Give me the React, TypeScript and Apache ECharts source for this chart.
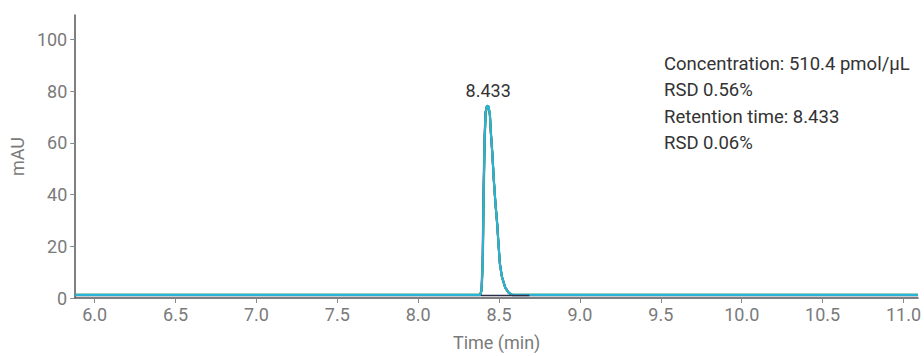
import React, { useEffect, useRef } from "react";
import * as echarts from "echarts";

const xTicks = [6.0, 6.5, 7.0, 7.5, 8.0, 8.5, 9.0, 9.5, 10.0, 10.5, 11.0];
const yTicks = [0, 20, 40, 60, 80, 100];

const traceNavy: number[][] = [
  [5.88, 1.1], [8.384, 1.1], [8.392, 3], [8.399, 14], [8.405, 42], [8.411, 62], [8.417, 72],
  [8.425, 74], [8.434, 73.6], [8.443, 71], [8.449, 64], [8.458, 56], [8.468, 45], [8.478, 36],
  [8.489, 28], [8.496, 21], [8.505, 13], [8.518, 8], [8.538, 4], [8.56, 2], [8.58, 1.1], [11.09, 1.1],
];
const traceMagenta: number[][] = [
  [5.88, 1.2], [8.383, 1.2], [8.391, 3.5], [8.398, 16], [8.404, 44], [8.410, 63], [8.416, 72],
  [8.424, 74.2], [8.433, 74], [8.442, 71.5], [8.448, 65], [8.457, 57], [8.467, 46], [8.477, 37],
  [8.488, 29], [8.495, 22], [8.504, 14], [8.517, 8.5], [8.537, 4.2], [8.559, 2.1], [8.58, 1.2], [11.09, 1.2],
];
const traceOrange: number[][] = [
  [5.88, 1.2], [8.385, 1.2], [8.393, 3], [8.400, 13], [8.406, 40], [8.412, 61], [8.418, 71],
  [8.426, 73.8], [8.435, 73.5], [8.444, 70.5], [8.450, 63], [8.459, 55], [8.469, 44], [8.479, 35],
  [8.490, 27], [8.497, 20], [8.506, 12.5], [8.519, 7.5], [8.539, 3.8], [8.561, 1.9], [8.58, 1.2], [11.09, 1.2],
];
const traceGreen: number[][] = [
  [5.88, 1.3], [8.384, 1.3], [8.392, 3.2], [8.399, 15], [8.405, 43], [8.411, 62.5], [8.417, 71.5],
  [8.425, 74.4], [8.434, 74.2], [8.443, 71.2], [8.449, 64.5], [8.458, 56.5], [8.468, 45.5], [8.478, 36.5],
  [8.489, 28.5], [8.496, 21.5], [8.505, 13.5], [8.518, 8.2], [8.538, 4], [8.56, 2], [8.58, 1.3], [11.09, 1.3],
];
const traceTeal: number[][] = [
  [5.88, 1.3], [8.385, 1.3], [8.393, 3.4], [8.400, 15], [8.406, 43], [8.412, 63], [8.418, 72],
  [8.426, 74.5], [8.435, 74.1], [8.444, 71], [8.450, 64], [8.459, 56], [8.469, 45], [8.479, 36],
  [8.490, 28], [8.497, 21], [8.506, 13], [8.519, 8], [8.539, 4], [8.561, 2], [8.58, 1.3], [11.09, 1.3],
];
const traceCyan: number[][] = [
  [5.88, 1.2], [8.384, 1.2], [8.392, 3.3], [8.399, 14.5], [8.405, 42.5], [8.411, 62.5], [8.417, 72],
  [8.425, 74.3], [8.434, 74.3], [8.443, 71.3], [8.449, 64.2], [8.458, 56.2], [8.468, 45.2], [8.478, 36.2],
  [8.489, 28.2], [8.496, 21.2], [8.505, 13.2], [8.518, 8.1], [8.538, 4.1], [8.56, 2], [8.58, 1.2], [11.09, 1.2],
];
const integrationBaseline: number[][] = [[8.387, 1.0], [8.687, 1.0]];

const peakTime = 8.433;
const peakHeight = 74.5;
const annotations = [
  "Concentration: 510.4 pmol/\u03bcL",
  "RSD 0.56%",
  "Retention time: 8.433",
  "RSD 0.06%",
];

const FONT = "Roboto";

export default function App() {
  const ref = useRef<HTMLDivElement>(null);
  useEffect(() => {
    if (!ref.current) return;
    document.body.style.margin = "0";
    const chart = echarts.init(ref.current, undefined, { renderer: "svg" });
    const mk = (name: string, data: number[][], color: string, z: number) => ({
      name,
      type: "line",
      data,
      symbol: "none",
      lineStyle: { color, width: 2 },
      z,
    });
    chart.setOption({
      animation: false,
      grid: { left: 75, right: 0, top: 15, bottom: 52 },
      xAxis: {
        type: "value",
        min: 5.88,
        max: 11.09,
        name: "Time (min)",
        nameLocation: "middle",
        nameGap: 35,
        nameTextStyle: { color: "#7a7a7a", fontSize: 18, fontFamily: FONT },
        axisLine: { lineStyle: { color: "#555", width: 1.5 } },
        axisTick: { show: true, length: 5, customValues: xTicks, lineStyle: { color: "#888" } },
        axisLabel: {
          customValues: xTicks,
          color: "#7a7a7a",
          fontSize: 18,
          fontFamily: FONT,
          margin: 7,
          formatter: (v: number) => v.toFixed(1),
        },
        splitLine: { show: false },
      },
      yAxis: {
        type: "value",
        min: 0,
        max: 109.5,
        name: "mAU",
        nameLocation: "middle",
        nameGap: 48,
        nameTextStyle: { color: "#7a7a7a", fontSize: 18, fontFamily: FONT },
        axisLine: { show: true, lineStyle: { color: "#555", width: 1.5 } },
        axisTick: { show: true, length: 5, customValues: yTicks, lineStyle: { color: "#888" } },
        axisLabel: {
          customValues: yTicks,
          color: "#7a7a7a",
          fontSize: 18,
          fontFamily: FONT,
          margin: 8,
        },
        splitLine: { show: false },
      },
      series: [
        mk("navy", traceNavy, "#2b3a67", 1),
        mk("magenta", traceMagenta, "#d6409f", 2),
        mk("orange", traceOrange, "#f0a030", 3),
        mk("green", traceGreen, "#2e9b4f", 4),
        mk("teal", traceTeal, "#2a9d9a", 5),
        {
          ...mk("cyan", traceCyan, "#2bb3d6", 6),
          markPoint: {
            symbol: "circle",
            symbolSize: 0,
            data: [{ coord: [peakTime, peakHeight] }],
            label: {
              show: true,
              position: "top",
              distance: 6,
              formatter: "8.433",
              color: "#333",
              fontSize: 18,
              fontFamily: FONT,
            },
          },
        },
        {
          ...mk("base", integrationBaseline, "#2b2f4a", 7),
          lineStyle: { color: "#2b2f4a", width: 1.5 },
        },
      ],
      graphic: annotations.map((t, i) => ({
        type: "text",
        left: 664,
        top: 54 + i * 26.5,
        style: { text: t, fontSize: 18.5, fontFamily: FONT, fill: "#333" },
      })),
    });
    return () => chart.dispose();
  }, []);
  return <div ref={ref} style={{ width: 924, height: 356 }} />;
}
